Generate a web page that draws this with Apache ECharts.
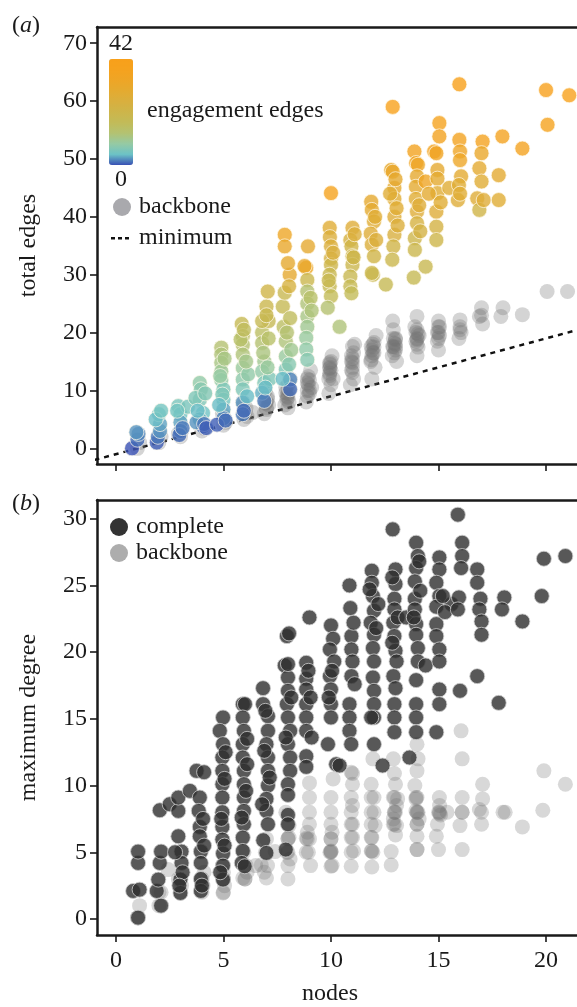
<!DOCTYPE html>
<html>
<head>
<meta charset="utf-8">
<script src="https://cdn.jsdelivr.net/npm/echarts@6/dist/echarts.min.js"></script>
<style>
  html, body { margin: 0; padding: 0; background: #fff; }
  #chart { width: 577px; height: 1007px; }
</style>
</head>
<body>
<div id="chart"></div>
<script>
// tick labels
const nodeTicks = [0, 5, 10, 15, 20]
const edgeTicks = [0, 10, 20, 30, 40, 50, 60, 70]
const degreeTicks = [0, 5, 10, 15, 20, 25, 30]

// (a) complete networks: [nodes, total edges, engagement edges]
const completeEdges = [
  [0.75, 0, 0], [1.0, 1.5, 1], [1.05, 2.5, 2], [0.95, 2.8, 2.5],
  [1.9, 1, 0.5], [1.95, 2, 1.5], [2.05, 3, 2.5], [2.05, 4.2, 3], [2.0, 5.9, 4.5], [1.85, 5, 4], [2.1, 6.5, 5],
  [2.9, 7.3, 5.5], [3.0, 5.9, 4.5], [3.0, 4.5, 3], [3.0, 3, 2], [2.95, 2.3, 1], [3.35, 7.2, 5.5], [3.1, 3.5, 1.5], [2.85, 6.5, 5],
  [3.9, 11.3, 8], [3.95, 10.2, 7], [3.9, 8.4, 6], [4.05, 6.1, 4.5], [3.9, 5, 3.5], [4.05, 3.8, 1], [3.75, 4.5, 2.5],
  [4.1, 4.2, 1.5], [4.2, 3.5, 0.5], [3.7, 8.7, 6], [4.15, 9.5, 6.5], [3.8, 6.5, 4],
  [4.9, 17.4, 13], [4.9, 16.2, 12], [4.9, 14.8, 11], [4.9, 13.3, 9.5], [4.9, 11.8, 8], [5.0, 10.2, 6], [5.0, 8.4, 5],
  [5.0, 6.7, 3], [5.0, 5.2, 2], [4.7, 4.1, 0.5], [5.1, 4.8, 1], [4.85, 12.5, 8.5], [5.05, 15.5, 11], [4.95, 9.3, 6], [4.8, 7.5, 4],
  [5.85, 21.5, 18], [5.9, 19.4, 15], [5.9, 17.9, 13], [5.9, 16.2, 12], [5.9, 13.9, 9], [5.9, 11.9, 7.5], [5.9, 10.2, 6],
  [5.9, 7.9, 2.5], [5.9, 5.9, 1.5], [5.95, 6.5, 1], [6.1, 9, 4], [6.15, 12.8, 8], [6.05, 15, 10.5], [5.8, 18.8, 14], [5.95, 20.5, 16],
  [6.8, 20, 15], [6.8, 18.2, 13], [6.9, 15, 10], [6.8, 13.3, 8], [6.9, 11.3, 6], [6.8, 9.6, 3.5], [6.9, 8.2, 1.5],
  [7.0, 24.5, 20], [7.1, 22, 18], [7.06, 27.1, 22], [6.8, 22, 18], [7.0, 23, 19], [6.85, 16.5, 11.5], [7.1, 19, 14],
  [7.15, 12, 6], [6.95, 10.5, 4], [7.05, 14, 9],
  [7.85, 36.9, 33], [7.85, 34.9, 31], [8.08, 30, 30], [8.0, 32, 30], [7.76, 24.5, 18], [7.8, 21, 15], [7.9, 18.5, 12],
  [7.9, 15.9, 9], [7.9, 13.6, 6], [8.1, 11.9, 2], [8.1, 10.2, 1], [7.85, 26.9, 19], [8.05, 28, 24], [8.1, 22.5, 16],
  [8.15, 17, 10], [7.95, 20, 13], [8.05, 14.5, 7], [7.75, 12, 4],
  [8.85, 31.2, 33], [8.77, 31.5, 31], [8.93, 34.9, 30], [8.9, 29.1, 20], [8.9, 27.1, 13], [8.9, 25, 12], [8.9, 22.8, 11],
  [8.9, 21, 10], [8.85, 19.1, 9], [8.85, 17.1, 8], [8.9, 15.3, 7], [9.05, 26, 14], [9.1, 23.8, 12],
  [10.0, 44.1, 38], [9.94, 38.1, 28], [9.95, 36.5, 26], [10.0, 34.9, 26], [10.0, 32.8, 24], [10.0, 31.7, 21], [9.94, 30, 19],
  [9.94, 28, 18], [10.0, 26.3, 17], [9.85, 24.3, 13], [10.4, 21, 12], [10.1, 33.8, 25], [9.9, 29, 19],
  [11.0, 38.1, 27], [10.9, 36, 24], [10.95, 34.9, 22], [11.0, 33.2, 21], [11.0, 31.7, 20], [10.9, 29.7, 19], [10.9, 28, 18],
  [10.95, 26.8, 17], [11.05, 33, 21], [11.1, 37, 26],
  [11.87, 42.6, 30], [11.9, 41.2, 29], [12.0, 39.2, 28], [11.85, 37.1, 27], [11.9, 35.2, 26], [12.0, 33.2, 22], [11.95, 30, 19],
  [11.9, 30.3, 20], [12.55, 28.3, 18], [12.1, 36, 26], [12.05, 40, 28],
  [12.87, 59, 40], [12.8, 48.1, 30], [12.95, 45, 29], [12.95, 43.1, 28], [12.95, 40, 27], [12.95, 36.9, 25], [12.9, 34.9, 22],
  [12.85, 32.6, 20], [12.87, 47.8, 32], [13.05, 41.5, 28], [13.1, 38.5, 26], [12.75, 44, 28], [13.0, 46.5, 30],
  [13.88, 51.3, 36], [13.96, 49.3, 35], [14.04, 49, 33], [14.0, 47, 30], [13.95, 45.2, 29], [13.95, 43.1, 28], [14.0, 40.9, 27],
  [14.0, 38.9, 24], [13.9, 36.3, 21], [13.9, 34.3, 20], [14.4, 31.4, 19], [14.4, 46.1, 34], [14.1, 42, 27], [14.15, 37.5, 23], [13.85, 29.5, 18],
  [15.04, 56.2, 38], [15.04, 53.9, 36], [14.8, 51.3, 36], [14.9, 51, 35], [14.95, 48.1, 30], [14.95, 46.6, 29], [14.95, 44.1, 28],
  [14.9, 40.9, 27], [14.9, 38.3, 23], [14.9, 36, 21], [15.5, 45, 28], [15.9, 42.9, 27], [15.1, 42.5, 28], [14.55, 44, 29],
  [15.97, 62.9, 42], [15.97, 53.3, 36], [16.0, 51.3, 34], [16.0, 49.8, 33], [16.05, 47, 29], [15.95, 45.5, 28], [16.0, 44, 28],
  [17.05, 53, 37], [17.0, 51, 32], [16.9, 48.4, 29], [17.0, 46.1, 28], [16.8, 43.2, 27], [16.9, 41.2, 22], [17.1, 42.9, 27],
  [17.8, 47.2, 29], [17.8, 42.9, 28], [17.97, 53.9, 37],
  [18.9, 51.8, 37],
  [20.0, 61.9, 41], [20.07, 55.9, 38],
  [21.08, 61, 40]
]

// (a) backbone networks: [nodes, total edges]
const backboneEdges = [
  [1.0, 0], [1.1, 1], [2.0, 1], [2.1, 2], [3.0, 2], [3.05, 3], [2.9, 2.5],
  [4.0, 3], [4.05, 4], [4.1, 3.5], [3.9, 5],
  [5.0, 4], [5.05, 5], [5.1, 4.5], [4.95, 6], [5.0, 5.5],
  [5.95, 5], [6.0, 6], [6.05, 7], [6.1, 5.5], [6.37, 6.2], [5.9, 8], [6.0, 6.5], [5.95, 7.5],
  [6.9, 6], [7.0, 6.7], [7.0, 8], [7.1, 7.5], [7.05, 9], [6.95, 10], [7.0, 7], [7.05, 8.5], [6.95, 7.8],
  [7.85, 7.5], [7.9, 9.6], [7.95, 8.5], [8.0, 11], [8.05, 10], [8.1, 12], [8.0, 7],
  [7.95, 9], [8.0, 9.5], [8.05, 8], [7.9, 10.5], [8.0, 8.8],
  [8.9, 9], [8.9, 11.3], [8.95, 12.4], [9.0, 10], [8.85, 8], [9.05, 13.5], [9.1, 10.5],
  [8.9, 10], [8.95, 11], [9.0, 11.8], [8.9, 12], [9.0, 9.5],
  [9.94, 12.6], [9.94, 13.8], [9.94, 14.8], [10.0, 11], [10.05, 16], [9.9, 9.5], [10.1, 12],
  [9.94, 13], [9.95, 14], [10.0, 13.5], [9.9, 12], [10.0, 15], [9.95, 14.5],
  [11.0, 13.1], [11.0, 14.8], [11.0, 17.6], [10.95, 16], [11.05, 12], [11.1, 18], [10.9, 11],
  [11.0, 14], [10.95, 15], [11.0, 15.5], [11.05, 16.5], [10.95, 13.5],
  [11.87, 15.3], [11.87, 17.6], [12.0, 18.3], [11.95, 16.5], [12.05, 14], [11.9, 12], [12.1, 19.5],
  [11.9, 16], [11.9, 17], [12.0, 17.5], [11.85, 15], [12.0, 16.5], [11.95, 18],
  [12.87, 17.6], [12.87, 22], [13.0, 19], [13.0, 18.8], [12.95, 16.5], [13.05, 15], [12.9, 20.5], [13.0, 17],
  [12.9, 17.5], [12.95, 18.2], [13.0, 18], [12.9, 19], [13.0, 17.5], [12.85, 16],
  [14.0, 22.8], [14.0, 18.8], [13.95, 20], [14.05, 17.5], [14.0, 16], [13.9, 21], [14.1, 19.5],
  [14.0, 19], [13.95, 18.5], [14.0, 20.5], [14.05, 19.8], [14.0, 18],
  [15.0, 22], [15.0, 20], [14.95, 18.5], [15.05, 21], [15.0, 17], [15.0, 19], [15.0, 21], [14.95, 20], [15.05, 19.5],
  [16.0, 22.2], [16.0, 20.5], [15.95, 19], [16.0, 21], [16.05, 20],
  [17.0, 24.3], [16.9, 22.8], [17.05, 21.5], [17.0, 23],
  [18.0, 24.3], [17.9, 22.8], [18.9, 23.1],
  [20.05, 27.1], [21.0, 27.1]
]

// (a) minimum number of edges (a tree)
const minimumNodes = [-1, 22]
const minimumEdges = [-2, 21]

// (b) complete networks: [nodes, maximum degree]
const completeDegree = [
  [1.03, 0.1], [0.8, 2.1], [1.1, 2.2], [1.03, 4.2], [1.03, 5.05],
  [2.1, 1.0], [1.9, 2.1], [1.97, 2.95], [2.04, 4.2], [2.1, 5.05], [2.04, 8.15], [2.5, 8.6],
  [2.9, 8.1], [2.9, 9.1], [3.44, 9.6], [2.9, 6.2], [3.05, 5.05], [3.05, 4.2], [3.0, 2.95], [3.0, 1.95], [2.75, 5.0], [3.1, 3.5], [2.95, 2.5],
  [3.9, 9.1], [3.85, 8.1], [3.9, 6.9], [3.9, 6.2], [3.95, 5.05], [3.95, 4.2], [3.95, 3.0], [3.95, 2.1], [3.75, 11.1], [4.1, 11.0],
  [4.05, 7.5], [4.1, 5.5], [4.0, 2.5],
  [4.98, 15.1], [4.83, 14.1], [4.98, 13.1], [4.95, 12.1], [4.95, 11.1], [4.95, 10.1], [4.95, 9.1], [4.95, 8.0], [4.95, 6.9],
  [4.95, 5.95], [4.98, 4.9], [4.98, 4.0], [4.98, 2.95], [5.1, 12.5], [5.05, 10.5], [4.9, 7.5], [5.05, 5.5], [4.85, 3.5],
  [5.9, 16.1], [6.0, 16.1], [5.9, 15.1], [5.95, 14.1], [5.9, 13.1], [5.9, 12.1], [5.95, 11.1], [5.95, 10.1], [5.95, 9.1],
  [5.95, 8.1], [5.95, 7.1], [5.9, 6.1], [5.9, 5.1], [5.85, 4.2], [5.99, 3.95], [6.1, 11.6], [6.05, 9.6], [6.1, 13.5], [5.85, 7.6],
  [6.84, 17.3], [6.84, 16.1], [7.07, 15.2], [7.07, 14.1], [7.0, 13.1], [7.07, 12.1], [7.07, 11.1], [7.07, 10], [7.0, 9.0],
  [7.0, 8.1], [7.07, 7.1], [6.85, 5.9], [7.0, 4.95], [6.9, 12.6], [7.15, 10.6], [6.95, 15.6], [6.8, 8.6],
  [7.95, 21.2], [8.05, 21.4], [7.85, 19.0], [8.0, 18.1], [8.0, 17.1], [7.95, 16.1], [8.0, 15.1], [8.1, 14.1], [8.0, 13.1],
  [8.1, 12.1], [8.1, 11.1], [8.0, 10.1], [8.0, 9.3], [8.0, 7.8], [8.0, 7.1], [7.9, 5.2], [8.0, 19.1], [8.15, 16.6], [7.9, 13.6],
  [9.0, 22.6], [8.85, 19.2], [8.85, 18.0], [8.85, 17.2], [8.85, 16.1], [8.85, 15.1], [8.85, 14.1], [8.85, 12.2], [8.85, 11.4],
  [9.05, 16.6], [9.1, 13.6], [8.95, 18.6],
  [10.0, 22.0], [10.1, 21.0], [9.95, 20.2], [10.15, 19.3], [9.95, 18.2], [10.0, 17.2], [10.0, 16.1], [10.0, 15.1], [9.86, 13.1],
  [10.24, 11.6], [10.4, 11.5], [10.05, 18.6], [9.9, 16.6],
  [10.86, 25.0], [10.9, 23.3], [10.95, 21.2], [10.95, 20.2], [11.0, 19.3], [10.95, 18.2], [10.86, 16.1], [10.86, 15.1],
  [10.86, 14.1], [10.94, 13.1], [11.05, 22.2], [11.1, 17.6],
  [11.9, 26.1], [11.9, 25.2], [11.95, 24.2], [12.0, 23.1], [11.85, 22.2], [12.0, 21.3], [11.95, 20.3], [12.0, 19.3],
  [11.95, 18.1], [12.0, 17.1], [12.0, 16.1], [12.0, 15.1], [12.0, 13.1], [11.87, 15.1], [12.4, 11.5], [12.1, 21.8], [11.8, 24.7], [12.2, 23.6],
  [12.87, 29.2], [13.0, 26.2], [13.0, 25.1], [12.95, 24.0], [12.95, 23.2], [12.9, 22.2], [12.95, 21.2], [13.0, 20.1],
  [13.05, 19.3], [12.9, 18.2], [13.0, 17.3], [12.95, 16.1], [12.95, 15.1], [12.95, 14.0], [13.65, 12.1], [12.85, 25.6],
  [13.1, 22.6], [12.85, 20.7], [13.5, 22.6],
  [13.96, 28.2], [14.04, 27.2], [13.96, 26.3], [13.9, 25.3], [13.9, 24.0], [13.9, 23.2], [13.96, 22.1], [13.96, 21.3],
  [14.04, 20.3], [14.04, 19.3], [13.96, 17.9], [14.4, 19.0], [13.96, 16.1], [13.96, 15.1], [13.96, 14.0], [14.1, 26.8],
  [14.15, 24.6], [13.85, 22.6],
  [15.04, 27.1], [15.04, 26.2], [14.9, 25.2], [15.04, 24.2], [14.9, 23.4], [14.9, 22.1], [14.9, 21.2], [15.04, 20.2],
  [15.04, 19.3], [15.04, 17.2], [15.6, 23.6], [15.04, 16.1], [14.9, 14.0], [15.2, 24.2], [15.3, 23.0],
  [15.9, 30.3], [16.1, 28.2], [16.1, 27.2], [16.05, 26.3], [15.95, 24.1], [15.9, 23.2], [16.0, 17.1],
  [16.8, 26.2], [16.8, 25.2], [16.95, 24.0], [16.9, 23.2], [17.0, 22.3], [17.0, 21.3], [16.8, 18.2],
  [18.06, 24.1], [17.95, 23.2], [17.8, 16.2],
  [18.9, 22.3],
  [19.9, 27.0], [19.8, 24.2],
  [20.9, 27.2]
]

// (b) backbone networks: [nodes, maximum degree]
const backboneDegree = [
  [1.0, 0.1], [1.1, 1.0], [2.0, 1.0], [2.1, 2.0], [2.43, 3.7], [2.0, 2.0],
  [3.0, 2.0], [2.9, 3.0], [3.05, 2.5], [4.0, 2.0], [4.0, 3.0], [4.05, 2.5], [4.1, 3.5], [4.0, 3.0],
  [4.98, 1.95], [5.0, 3.0], [5.05, 2.5], [4.95, 4.0], [5.0, 3.5], [5.0, 2.0], [5.0, 3.0],
  [5.9, 3.07], [6.0, 3.0], [6.5, 4.0], [6.05, 4.0], [5.95, 5.0], [6.1, 3.5], [6.0, 3.0],
  [6.76, 4.05], [7.0, 3.07], [7.4, 5.05], [7.0, 6.0], [7.05, 4.0], [6.95, 5.0], [6.9, 3.5],
  [8.0, 4.0], [8.0, 6.05], [8.0, 3.0], [7.95, 5.0], [8.05, 7.0], [8.1, 4.5], [7.9, 8.0], [8.0, 6.0], [8.0, 5.0], [8.05, 6.1],
  [8.85, 6.05], [9.0, 9.1], [9.0, 8.0], [9.0, 7.1], [8.95, 5.0], [9.05, 4.0], [8.9, 6.5], [9.0, 10.2], [8.9, 6.0], [8.85, 5.0], [9.0, 6.0],
  [10.0, 9.1], [10.0, 5.05], [10.0, 6.0], [10.05, 4.0], [10.0, 8.0], [10.0, 7.1], [10.0, 3.95], [9.95, 5.0], [10.05, 6.5], [10.1, 10.5],
  [10.0, 5.0], [10.0, 5.1], [10.0, 6.0],
  [11.0, 10.9], [11.0, 10.1], [10.94, 11.0], [10.94, 9.1], [10.94, 8.0], [10.94, 7.1], [10.94, 6.1], [10.94, 5.0],
  [10.94, 3.95], [11.05, 5.1], [11.0, 8.5], [11.0, 6.1], [11.0, 7.1],
  [11.87, 10.1], [11.87, 9.1], [11.87, 8.0], [11.87, 7.1], [11.87, 6.1], [11.87, 5.1], [11.9, 3.9], [11.95, 5.0],
  [12.0, 8.0], [12.05, 7.0], [11.95, 12.0], [11.9, 5.1], [11.9, 6.1], [12.0, 9.1],
  [12.9, 12.0], [12.95, 10.9], [13.0, 10.1], [12.95, 9.1], [13.0, 8.0], [12.95, 7.1], [13.0, 6.3], [12.8, 5.05],
  [12.8, 4.05], [13.05, 8.5], [12.9, 7.5], [13.1, 9.0], [12.95, 8.0], [13.05, 7.0], [12.9, 7.1], [12.95, 8.0], [12.9, 9.1],
  [14.0, 13.1], [14.0, 11.1], [13.96, 9.1], [14.0, 8.0], [14.0, 7.1], [14.0, 6.2], [14.0, 5.2], [14.05, 8.0],
  [13.95, 9.0], [14.1, 7.5], [14.05, 12.0], [13.9, 10.0], [14.0, 8.0], [14.0, 7.1], [14.0, 9.1], [13.95, 8.1], [14.0, 5.2],
  [15.04, 9.1], [15.04, 8.0], [14.95, 7.1], [15.0, 5.2], [15.05, 8.5], [14.9, 6.2], [15.1, 7.8], [15.4, 8.0], [15.0, 8.0], [15.05, 7.9],
  [16.05, 14.1], [16.1, 12.0], [16.1, 9.1], [16.1, 8.0], [16.1, 5.2], [16.0, 7.0], [16.1, 8.0],
  [17.0, 8.0], [17.0, 7.1], [17.05, 10.1], [17.05, 9.0], [16.9, 8.2],
  [18.0, 8.0], [18.1, 8.0], [18.9, 6.9],
  [19.9, 11.1], [19.85, 8.15], [20.9, 10.1]
]

const engagementColors = ['#3850b4', '#6cc2c6', '#95caa4', '#b3c272', '#c2bb58', '#cdb54a',
  '#d9af3e', '#e4aa30', '#eea526', '#f5a21e', '#f8a01a']

const serif = 'Liberation Serif'
const ink = '#1a1a1a'
const fontSize = 24
const dotSize = 15

const chart = echarts.init(document.getElementById('chart'))

// shared axis look
function baseXAxis(gridIndex, showLabels) {
  return {
    type: 'value',
    gridIndex: gridIndex,
    min: -0.88,
    max: 21.44,
    axisLine: { onZero: false, lineStyle: { color: ink, width: 2.5 } },
    axisTick: { customValues: nodeTicks, length: 7, lineStyle: { color: ink, width: 1.6 } },
    axisLabel: {
      show: showLabels,
      customValues: nodeTicks,
      margin: 14,
      fontFamily: serif,
      fontSize: fontSize,
      color: ink
    },
    splitLine: { show: false }
  }
}
// plain line along the top of each panel
function frameAxis(gridIndex) {
  return {
    type: 'value',
    gridIndex: gridIndex,
    position: 'top',
    min: -0.88,
    max: 21.44,
    axisLine: { onZero: false, lineStyle: { color: ink, width: 2.5 } },
    axisTick: { show: false },
    axisLabel: { show: false },
    splitLine: { show: false }
  }
}
function baseYAxis(gridIndex, min, max, ticks, name) {
  return {
    type: 'value',
    gridIndex: gridIndex,
    min: min,
    max: max,
    name: name,
    nameLocation: 'middle',
    nameGap: 56,
    nameTextStyle: { fontFamily: serif, fontSize: fontSize, color: ink },
    axisLine: { onZero: false, lineStyle: { color: ink, width: 2.5 } },
    axisTick: { customValues: ticks, length: 7, lineStyle: { color: ink, width: 1.6 } },
    axisLabel: { customValues: ticks, margin: 10, fontFamily: serif, fontSize: fontSize, color: ink },
    splitLine: { show: false }
  }
}

const xA = baseXAxis(0, false)
const xB = baseXAxis(1, true)
xB.name = 'nodes'
xB.nameLocation = 'middle'
xB.nameGap = 47
xB.nameTextStyle = { fontFamily: serif, fontSize: fontSize, color: ink, padding: [0, 14, 0, 0] }

// dashed legend mark; the two moves fix its box to the legend item size
const dashIcon = 'path://M0,0M24,18M1,8h4v2.4h-4zM8,8h4v2.4h-4zM15,8h4v2.4h-4z'

const option = {
  animation: false,
  backgroundColor: '#fff',
  grid: [
    { left: 97, top: 27, width: 480, height: 437 },
    { left: 97, top: 500, width: 480, height: 439 }
  ],
  xAxis: [xA, frameAxis(0), xB, frameAxis(1)],
  yAxis: [
    baseYAxis(0, -2.7, 72.8, edgeTicks, 'total edges'),
    baseYAxis(1, -1.2, 31.4, degreeTicks, 'maximum degree')
  ],
  visualMap: {
    type: 'continuous',
    seriesIndex: 1,
    dimension: 2,
    min: 0,
    max: 42,
    orient: 'vertical',
    left: 94,
    top: 17,
    itemWidth: 24,
    itemHeight: 106,
    text: ['42', '0'],
    textGap: 3,
    calculable: false,
    hoverLink: false,
    inRange: { color: engagementColors },
    textStyle: { fontFamily: serif, fontSize: fontSize, color: ink }
  },
  legend: [
    {
      orient: 'vertical',
      left: 105,
      top: 190,
      itemWidth: 24,
      itemHeight: 18,
      itemGap: 7,
      selectedMode: false,
      textStyle: { fontFamily: serif, fontSize: fontSize, color: ink },
      data: [
        { name: 'backbone', icon: 'circle', itemStyle: { color: '#a9a9ad', opacity: 1, borderWidth: 0 } },
        { name: 'minimum', icon: dashIcon, itemStyle: { color: '#111', opacity: 1, borderWidth: 0 } }
      ]
    },
    {
      orient: 'vertical',
      left: 105,
      top: 510,
      itemWidth: 24,
      itemHeight: 18,
      itemGap: 2,
      selectedMode: false,
      textStyle: { fontFamily: serif, fontSize: fontSize, color: ink },
      data: [
        { name: 'complete', icon: 'circle', itemStyle: { color: '#333', opacity: 1, borderWidth: 0 } },
        { name: 'backbone', icon: 'circle', itemStyle: { color: '#adadad', opacity: 1, borderWidth: 0 } }
      ]
    }
  ],
  graphic: [
    {
      type: 'text', left: 12, top: 14,
      style: {
        text: '({a|a})',
        font: fontSize + 'px ' + serif,
        fill: ink,
        rich: { a: { fontStyle: 'italic', fontFamily: serif, fontSize: fontSize, fill: ink } }
      }
    },
    {
      type: 'text', left: 12, top: 492,
      style: {
        text: '({a|b})',
        font: fontSize + 'px ' + serif,
        fill: ink,
        rich: { a: { fontStyle: 'italic', fontFamily: serif, fontSize: fontSize, fill: ink } }
      }
    },
    {
      type: 'text', left: 147, top: 99,
      style: { text: 'engagement edges', font: fontSize + 'px ' + serif, fill: ink }
    }
  ],
  series: [
    {
      name: 'backbone',
      type: 'scatter',
      xAxisIndex: 0,
      yAxisIndex: 0,
      symbolSize: dotSize,
      itemStyle: { color: '#727272', opacity: 0.3 },
      data: backboneEdges
    },
    {
      name: 'engagement',
      type: 'scatter',
      xAxisIndex: 0,
      yAxisIndex: 0,
      symbolSize: dotSize,
      itemStyle: { borderColor: 'rgba(255,250,235,0.9)', borderWidth: 1 },
      data: completeEdges
    },
    {
      name: 'minimum',
      type: 'line',
      xAxisIndex: 0,
      yAxisIndex: 0,
      symbol: 'none',
      clip: true,
      z: 1,
      lineStyle: { color: '#111', width: 2.5, type: [5, 5] },
      itemStyle: { color: '#111' },
      data: minimumNodes.map((n, i) => [n, minimumEdges[i]])
    },
    {
      name: 'backbone',
      type: 'scatter',
      xAxisIndex: 2,
      yAxisIndex: 1,
      symbolSize: dotSize,
      itemStyle: { color: '#707070', opacity: 0.27 },
      data: backboneDegree
    },
    {
      name: 'complete',
      type: 'scatter',
      xAxisIndex: 2,
      yAxisIndex: 1,
      symbolSize: dotSize,
      itemStyle: { color: '#2e2e2e', borderColor: '#cfcfcf', borderWidth: 1 },
      data: completeDegree
    }
  ]
}

chart.setOption(option)
</script>
</body>
</html>
